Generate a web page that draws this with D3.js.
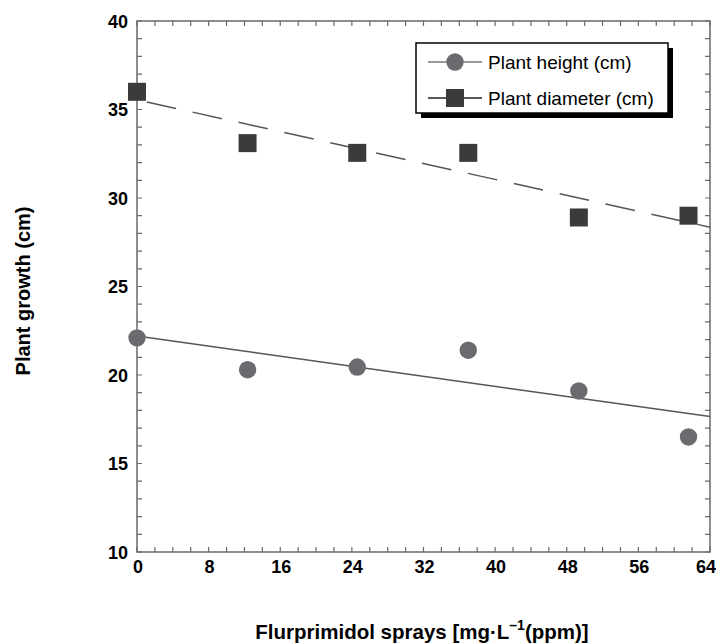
<!DOCTYPE html>
<html lang="en">
  <head>
    <script src="https://d3js.org/d3.v7.min.js"></script>
    <meta charset="utf-8">
    <title>Plant growth</title>
    <style>
      body { margin: 0; background: #fff; }
      text { font-family: "Liberation Sans", Arial, sans-serif; }
    </style>
  </head>
  <body>
    <svg id="chart"></svg>
    <script type="text/javascript">

    // doses of flurprimidol (ppm), as placed on the x axis
    var doses = [0, 12.35, 24.6, 37.0, 49.35, 61.6];
    var heightVals = [22.1, 20.3, 20.45, 21.4, 19.1, 16.5];
    var diameterVals = [36.0, 33.1, 32.55, 32.55, 28.9, 29.0];

    // fitted trend lines at x = 0 and x = 64
    var trendX = [0, 64];
    var heightTrend = [22.2, 17.65];
    var diameterTrend = [35.55, 28.35];

    var xTicks = [0, 8, 16, 24, 32, 40, 48, 56, 64];
    var yTicks = [10, 15, 20, 25, 30, 35, 40];

    var width = 716, height = 644;
    var mLeft = 137, mRight = 710, mTop = 21, mBottom = 552;

    var svg = d3.select("#chart")
      .attr("width", width)
      .attr("height", height);

    var x = d3.scaleLinear().domain([0, 64]).range([mLeft, mRight]);
    var y = d3.scaleLinear().domain([10, 40]).range([mBottom, mTop]);

    var axisColor = "#6a6a6a";

    // minor ticks every 2 on x, every 1 on y
    var xMinor = d3.range(0, 65, 2);
    var yMinor = d3.range(10, 41, 1);

    var frame = svg.append("g");
    frame.append("rect")
      .attr("x", mLeft).attr("y", mTop)
      .attr("width", mRight - mLeft).attr("height", mBottom - mTop)
      .attr("fill", "none").attr("stroke", axisColor).attr("stroke-width", 1.5);

    var tickLen = 5;
    frame.selectAll(".xt").data(xMinor).enter().append("path")
      .attr("d", function(d) {
        return "M" + x(d) + "," + mBottom + "v" + (-tickLen) +
               "M" + x(d) + "," + mTop + "v" + tickLen;
      })
      .attr("stroke", axisColor).attr("stroke-width", 1.2);
    frame.selectAll(".yt").data(yMinor).enter().append("path")
      .attr("d", function(d) {
        return "M" + mLeft + "," + y(d) + "h" + tickLen +
               "M" + mRight + "," + y(d) + "h" + (-tickLen);
      })
      .attr("stroke", axisColor).attr("stroke-width", 1.2);

    // tick labels
    svg.selectAll(".xl").data(xTicks).enter().append("text")
      .attr("x", function(d) { return d == 64 ? x(d) - 4 : x(d) + 1; })
      .attr("y", mBottom + 21)
      .attr("text-anchor", "middle")
      .attr("font-size", 18).attr("font-weight", "bold")
      .text(function(d) { return d; });
    svg.selectAll(".yl").data(yTicks).enter().append("text")
      .attr("x", mLeft - 9)
      .attr("y", function(d) { return y(d) + 6.5; })
      .attr("text-anchor", "end")
      .attr("font-size", 18).attr("font-weight", "bold")
      .text(function(d) { return d; });

    // axis titles
    svg.append("text")
      .attr("transform", "translate(29.5,291) rotate(-90)")
      .attr("text-anchor", "middle")
      .attr("font-size", 20).attr("font-weight", "bold")
      .text("Plant growth (cm)");

    var xt = svg.append("text")
      .attr("x", 422).attr("y", 639)
      .attr("text-anchor", "middle")
      .attr("font-size", 20.5).attr("font-weight", "bold");
    xt.append("tspan").text("Flurprimidol sprays [mg\u00b7L");
    xt.append("tspan").attr("dy", -9).attr("font-size", 14).text("\u20131");
    xt.append("tspan").attr("dy", 9).text("(ppm)]");

    // trend lines
    var line = d3.line()
      .x(function(d) { return x(d[0]); })
      .y(function(d) { return y(d[1]); });

    svg.append("path")
      .datum(d3.zip(trendX, diameterTrend))
      .attr("d", line)
      .attr("fill", "none").attr("stroke", "#555").attr("stroke-width", 1.5)
      .attr("stroke-dasharray", "30,17")
      .attr("stroke-dashoffset", -10);

    svg.append("path")
      .datum(d3.zip(trendX, heightTrend))
      .attr("d", line)
      .attr("fill", "none").attr("stroke", "#555").attr("stroke-width", 1.5);

    // markers
    var sq = 18;
    svg.selectAll(".sq").data(d3.zip(doses, diameterVals)).enter().append("rect")
      .attr("x", function(d) { return x(d[0]) - sq / 2; })
      .attr("y", function(d) { return y(d[1]) - sq / 2; })
      .attr("width", sq).attr("height", sq)
      .attr("fill", "#3b3b3b");

    svg.selectAll(".ci").data(d3.zip(doses, heightVals)).enter().append("circle")
      .attr("cx", function(d) { return x(d[0]); })
      .attr("cy", function(d) { return y(d[1]); })
      .attr("r", 8.7)
      .attr("fill", "#6b6b6f");

    // legend
    var lx = 416, ly = 43, lw = 252, lh = 70;
    var legend = svg.append("g").attr("class", "legend");
    legend.append("rect")
      .attr("x", lx + 5).attr("y", ly + 5)
      .attr("width", lw).attr("height", lh)
      .attr("fill", "#000");
    legend.append("rect")
      .attr("x", lx).attr("y", ly)
      .attr("width", lw).attr("height", lh)
      .attr("fill", "#fff").attr("stroke", "#000").attr("stroke-width", 1.5);

    var items = [
      { label: "Plant height (cm)", shape: "circle" },
      { label: "Plant diameter (cm)", shape: "square" }
    ];
    legend.selectAll(".item").data(items).enter().append("g")
      .each(function(d, i) {
        var g = d3.select(this);
        var cy = ly + 19 + i * 36;
        g.append("line")
          .attr("x1", lx + 12).attr("x2", lx + 66)
          .attr("y1", cy).attr("y2", cy)
          .attr("stroke", i == 0 ? "#777" : "#222").attr("stroke-width", 1.5);
        if (d.shape == "circle") {
          g.append("circle").attr("cx", lx + 39).attr("cy", cy).attr("r", 8.7)
            .attr("fill", "#6b6b6f");
        } else {
          g.append("rect").attr("x", lx + 39 - 9).attr("y", cy - 9)
            .attr("width", 18).attr("height", 18).attr("fill", "#3b3b3b");
        }
        g.append("text")
          .attr("x", lx + 72).attr("y", cy + 7)
          .attr("font-size", 19)
          .text(d.label);
      });

    </script>
  </body>
</html>
